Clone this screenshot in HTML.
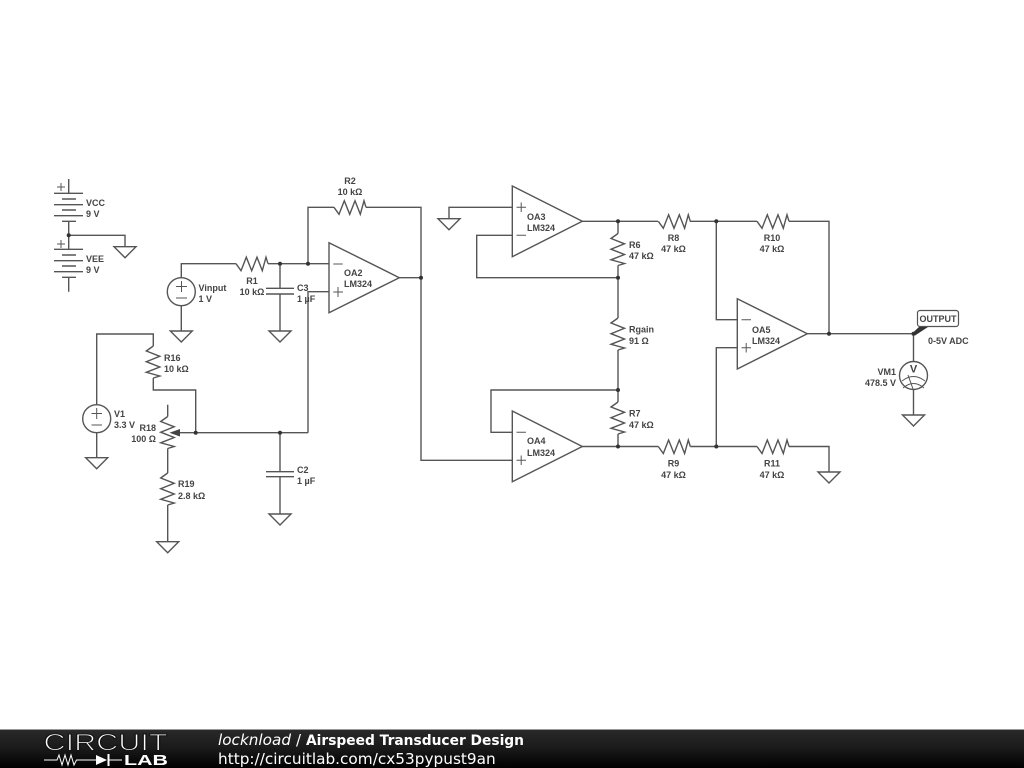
<!DOCTYPE html>
<html><head><meta charset="utf-8"><style>
html,body{margin:0;padding:0;background:#fff;width:1024px;height:768px;overflow:hidden}
svg{display:block;position:absolute;left:0;top:0}
.l{font:bold 9px "Liberation Sans",sans-serif;fill:#444}
.m{text-anchor:middle}.e{text-anchor:end}
</style></head><body>
<svg width="1024" height="768" viewBox="0 0 1024 768" xmlns="http://www.w3.org/2000/svg">
<defs>
<path id="r" d="M0 0L5 7L10.3-6.5L15.700 7L21-6.5L26.300 7L30-6.5L32 0"/>
<path id="g" d="M-11 0H11L0 11Z"/>
<linearGradient id="bar" x1="0" y1="0" x2="0" y2="1"><stop offset="0" stop-color="#2a2a2a"/><stop offset=".5" stop-color="#1a1a1a"/><stop offset="1" stop-color="#000"/></linearGradient>
</defs>
<g fill="none" stroke="#555" stroke-width="1.4">
<!-- batteries -->
<path d="M68.7 179V193.3M54 193.3H83M62 199H76M54 204.7H83M62 210H76M54 215.7H83M62 221.3H76M68.7 221.3V249.3M68.7 235.3H125V246.7"/>
<path d="M54 249.3H83M62 255H76M54 260.7H83M62 266H76M54 271.7H83M62 277.3H76M68.7 277.3V291.7"/>
<path d="M57 187H65M61 183V191M57 244H65M61 240V248" stroke-width="1"/>
<!-- Vinput / R1 / C3 -->
<path d="M181.3 277.7V263.7H236M268 263.7H329M181.3 305.7V331M280 263.7V288.3M266 288.3H294M266 294H294M280 294V331"/>
<circle cx="181.3" cy="291.7" r="14"/>
<path d="M176 286.5H187M181.5 281V292M176 298H187" stroke-width="1"/>
<use href="#r" x="236" y="263.7"/>
<!-- R2 & OA2 -->
<path d="M308 263.7V207.3H334M366 207.3H421V460.3H512.3M399.3 277.7H421"/>
<use href="#r" x="334" y="207.3"/>
<path d="M329 242.7L399.3 277.7L329 312.7Z"/>
<path d="M308 432.7V291.7H329"/>
<path d="M333.3 264H342.7M333.3 292H343M338 287V297" stroke-width="1"/>
<!-- V1 R16 R18 R19 C2 -->
<path d="M96.7 404.7V334H153.3V346M153.3 378V390H195.7V432.7M96.7 432.7V457.7"/>
<use href="#r" transform="translate(153.3 346) rotate(90)"/>
<circle cx="96.7" cy="418.7" r="14"/>
<path d="M91.5 413.5H102M96.7 408V419M91.5 425H102" stroke-width="1"/>
<path d="M167.7 404.7V416.5M167.7 448.5V473M167.7 505V541.7"/>
<use href="#r" transform="translate(167.7 416.5) rotate(90)"/>
<use href="#r" transform="translate(167.7 473) rotate(90)"/>
<path d="M179 432.7H308M280 432.7V471.7M266 471.7H294M266 476.7H294M280 476.7V514"/>
<!-- OA3 -->
<path d="M512.3 186L582.3 221.3L512.3 256.7Z"/>
<path d="M449 218.7V207.3H512.3M512.3 235.3H476.7V277.7H618M582.3 221.3H658M690 221.3H757M789 221.3H829V333.7M618 221.3V233.5M618 265.5V318M618 350V402M618 434V446.5"/>
<path d="M516.5 207.3H526M521.2 202.5V212M516.5 235.3H526" stroke-width="1"/>
<use href="#r" transform="translate(618 233.5) rotate(90)"/>
<use href="#r" transform="translate(618 318) rotate(90)"/>
<use href="#r" transform="translate(618 402) rotate(90)"/>
<use href="#r" x="658.3" y="221.3"/>
<use href="#r" x="757" y="221.3"/>
<!-- OA4 -->
<path d="M512.3 411L582.3 446.5L512.3 481.7Z"/>
<path d="M512.3 432.3H491V390H618M582.3 446.5H658.3M690.3 446.5H757M789 446.5H829V472"/>
<path d="M516.5 432.3H526M516.5 460.3H526M521.2 455.5V465" stroke-width="1"/>
<use href="#r" x="658.3" y="446.5"/>
<use href="#r" x="757" y="446.5"/>
<!-- OA5 -->
<path d="M737.3 298.7L807.3 333.7L737.3 369Z"/>
<path d="M716.3 221.3V319.7H737.3M737.3 347.7H716.3V446.5M807.3 333.7H913.5V361.3M913.5 389.5V415"/>
<path d="M741.5 319.7H751M741.5 347.7H751M746.2 343V352.5" stroke-width="1"/>
<circle cx="913.500" cy="375.500" r="14"/>
<path d="M902 381Q913.500 372 925 381M903 388Q913.500 379 924 388M908 375L913 389" stroke-width="1"/>
<!-- grounds -->
<use href="#g" x="125" y="246.7"/>
<use href="#g" x="181.3" y="331"/>
<use href="#g" x="280" y="331"/>
<use href="#g" x="96.7" y="457.7"/>
<use href="#g" x="167.7" y="541.7"/>
<use href="#g" x="280" y="514"/>
<use href="#g" x="449" y="218.7"/>
<use href="#g" x="829" y="472"/>
<use href="#g" x="913.5" y="415"/>
<!-- output tag -->
<rect x="917.500" y="310.500" width="41" height="16" rx="2.500" fill="#fff" stroke="#555" stroke-width="1.200"/>
</g>
<path d="M912.500 333L919 327H928L915 335.500Z" fill="#333"/>
<path d="M180 429L169.500 432.700L180 436.500Z" fill="#444"/>
<g fill="#333">
<circle cx="68.7" cy="235.3" r="2"/><circle cx="280" cy="263.7" r="2"/><circle cx="308" cy="263.7" r="2"/>
<circle cx="421" cy="277.7" r="2"/><circle cx="195.7" cy="432.7" r="2"/><circle cx="280" cy="432.7" r="2"/>
<circle cx="618" cy="221.3" r="2"/><circle cx="618" cy="277.7" r="2"/><circle cx="618" cy="390" r="2"/><circle cx="618" cy="446.5" r="2"/>
<circle cx="716.3" cy="221.3" r="2"/><circle cx="716.3" cy="446.5" r="2"/><circle cx="829" cy="333.7" r="2"/><circle cx="913.5" cy="333.7" r="2"/>
</g>
<g class="l">
<text class="l" x="86" y="206">VCC</text><text class="l" x="86" y="217">9 V</text>
<text class="l" x="86" y="262">VEE</text><text class="l" x="86" y="273">9 V</text>
<text class="l" x="198.5" y="291">Vinput</text><text class="l" x="198.5" y="302">1 V</text>
<text class="l m" x="252" y="284">R1</text><text class="l m" x="252" y="295">10 kΩ</text>
<text class="l" x="297" y="291">C3</text><text class="l" x="297" y="302">1 µF</text>
<text class="l m" x="350" y="184">R2</text><text class="l m" x="350" y="195">10 kΩ</text>
<text class="l" x="344" y="276">OA2</text><text class="l" x="344" y="287">LM324</text>
<text class="l" x="527" y="220">OA3</text><text class="l" x="527" y="231">LM324</text>
<text class="l" x="527" y="444">OA4</text><text class="l" x="527" y="456">LM324</text>
<text class="l" x="752" y="333">OA5</text><text class="l" x="752" y="344">LM324</text>
<text class="l" x="164" y="361">R16</text><text class="l" x="164" y="372">10 kΩ</text>
<text class="l" x="114" y="417">V1</text><text class="l" x="114" y="428">3.3 V</text>
<text class="l e" x="156" y="431">R18</text><text class="l e" x="156" y="442">100 Ω</text>
<text class="l" x="178" y="487">R19</text><text class="l" x="178" y="499">2.8 kΩ</text>
<text class="l" x="297" y="473">C2</text><text class="l" x="297" y="484">1 µF</text>
<text class="l" x="629" y="248">R6</text><text class="l" x="629" y="259">47 kΩ</text>
<text class="l" x="629" y="332.500">Rgain</text><text class="l" x="629" y="344">91 Ω</text>
<text class="l" x="629" y="416.500">R7</text><text class="l" x="629" y="428">47 kΩ</text>
<text class="l m" x="673.500" y="241">R8</text><text class="l m" x="673.500" y="252">47 kΩ</text>
<text class="l m" x="772" y="241">R10</text><text class="l m" x="772" y="252">47 kΩ</text>
<text class="l m" x="673.500" y="466.500">R9</text><text class="l m" x="673.500" y="478">47 kΩ</text>
<text class="l m" x="772" y="466.500">R11</text><text class="l m" x="772" y="478">47 kΩ</text>
<text class="l m" x="938" y="322">OUTPUT</text>
<text class="l" x="928" y="344">0-5V ADC</text>
<text class="l e" x="896" y="375">VM1</text><text class="l e" x="896" y="386">478.5 V</text>
<text class="l m" x="913.500" y="372.500" style="font-size:11px">V</text>
</g>
<!-- footer -->
<rect x="0" y="729" width="1024" height="39" fill="url(#bar)"/>
<rect x="0" y="729" width="1024" height="1" fill="#999"/>
<text x="43.500" y="750.500" font-family="Liberation Sans,sans-serif" font-size="24" textLength="124" lengthAdjust="spacingAndGlyphs" fill="#fff" stroke="#151515" stroke-width="1.100">CIRCUIT</text>
<text x="124" y="765" font-family="Liberation Sans,sans-serif" font-weight="bold" font-size="15" textLength="44" lengthAdjust="spacingAndGlyphs" fill="#fff">LAB</text>
<path d="M44 760H57L59 755L62 765L65 755L68 765L71 755L74 765L76.500 760H96M109 760H122" fill="none" stroke="#fff" stroke-width="1"/>
<path d="M96 755L107 760L96 765Z M107.500 754H109.500V766H107.500Z" fill="#fff"/>
<text x="218" y="745" font-family="DejaVu Sans,sans-serif" font-size="15" font-style="italic" textLength="73" lengthAdjust="spacingAndGlyphs" fill="#fff">locknload</text>
<text x="296" y="745" font-family="DejaVu Sans,sans-serif" font-size="15" fill="#fff">/</text>
<text x="306" y="745" font-family="DejaVu Sans,sans-serif" font-size="14" font-weight="bold" textLength="218" lengthAdjust="spacingAndGlyphs" fill="#fff">Airspeed Transducer Design</text>
<text x="218" y="764" font-family="DejaVu Sans,sans-serif" font-size="15.300" fill="#fff">http://circuitlab.com/cx53pypust9an</text>
</svg>
</body></html>
